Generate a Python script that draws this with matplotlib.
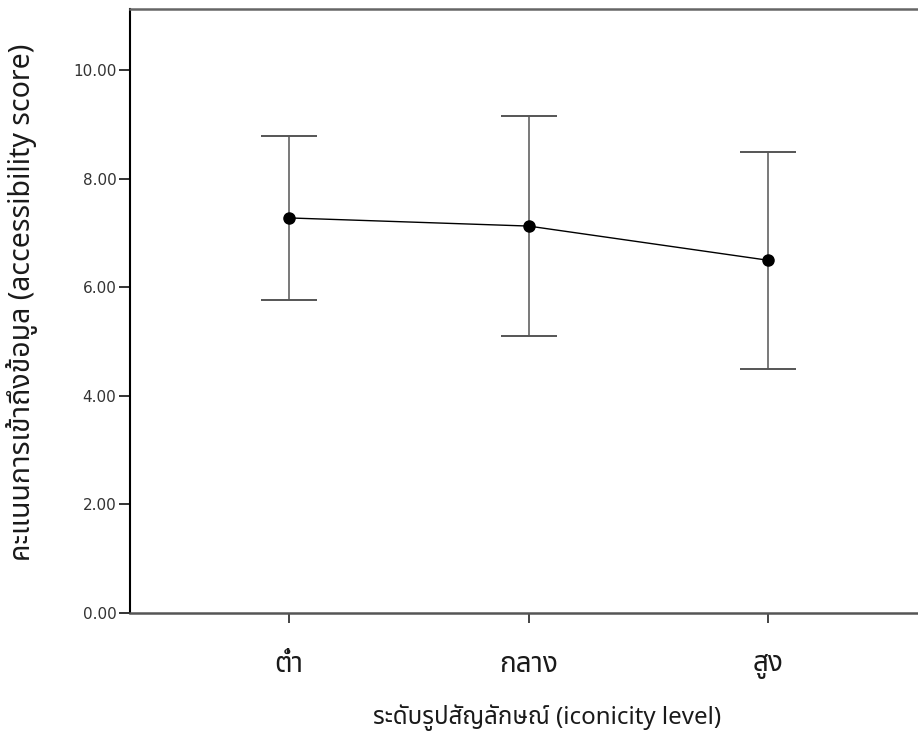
import matplotlib
matplotlib.use("Agg")
import matplotlib.pyplot as plt

categories = ["ต่ำ", "กลาง", "สูง"]
means = [7.28, 7.13, 6.50]
upper = [8.79, 9.16, 8.50]
lower = [5.77, 5.10, 4.50]
yticks = [0, 2, 4, 6, 8, 10]
ytick_labels = ["0.00", "2.00", "4.00", "6.00", "8.00", "10.00"]
xlabel = "ระดับรูปสัญลักษณ์ (iconicity level)"
ylabel = "คะแนนการเข้าถึงข้อมูล (accessibility score)"

thai = ["Noto Sans Thai", "Noto Sans", "DejaVu Sans"]

fig = plt.figure(figsize=(9.18, 7.42), dpi=100)
ax = fig.add_axes([129.5 / 918, 1 - 613 / 742, 1 - 129.5 / 918, (613 - 9) / 742])

x = list(range(len(categories)))
yerr = [[m - l for m, l in zip(means, lower)], [u - m for m, u in zip(means, upper)]]
ax.errorbar(x, means, yerr=yerr, fmt="none", ecolor="#555555", elinewidth=1.1,
            capsize=20, capthick=1.4, zorder=2)
ax.plot(x, means, color="black", lw=1.0, marker="o", markersize=8,
        markerfacecolor="black", markeredgecolor="black", zorder=3)

ax.set_xlim(-0.667, 2.626)
ax.set_ylim(0, 11.13)
ax.set_yticks(yticks)
ax.set_yticklabels(ytick_labels, family="DejaVu Sans", fontsize=11, color="#333333")
ax.set_xticks(x)
ax.set_xticklabels(categories, family=thai, fontsize=20, color="#1a1a1a", fontweight="light")
ax.tick_params(axis="y", length=8, width=1.4, color="#333333", pad=1.5)
ax.tick_params(axis="x", length=7.5, width=1.4, color="#444444", pad=20)

ax.spines["right"].set_visible(False)
ax.spines["left"].set_color("black")
ax.spines["left"].set_linewidth(1.5)
ax.spines["bottom"].set_color("#555555")
ax.spines["bottom"].set_linewidth(1.8)
ax.spines["top"].set_color("#666666")
ax.spines["top"].set_linewidth(1.8)

ax.set_xlabel(xlabel, family=thai, fontsize=17.3, color="#1a1a1a", fontweight="light")
ax.xaxis.set_label_coords((547 - 129.5) / (918 - 129.5), -(718 - 613) / (613 - 9))
ax.set_ylabel(ylabel, family=thai, fontsize=20.5, color="#1a1a1a", fontweight="light")
ax.yaxis.set_label_coords(-(129.5 - 22) / (918 - 129.5), (613 - 302) / (613 - 9))
ax.xaxis.label.set_va("center")
ax.yaxis.label.set_va("center")

fig.savefig("out.png", dpi=100)
